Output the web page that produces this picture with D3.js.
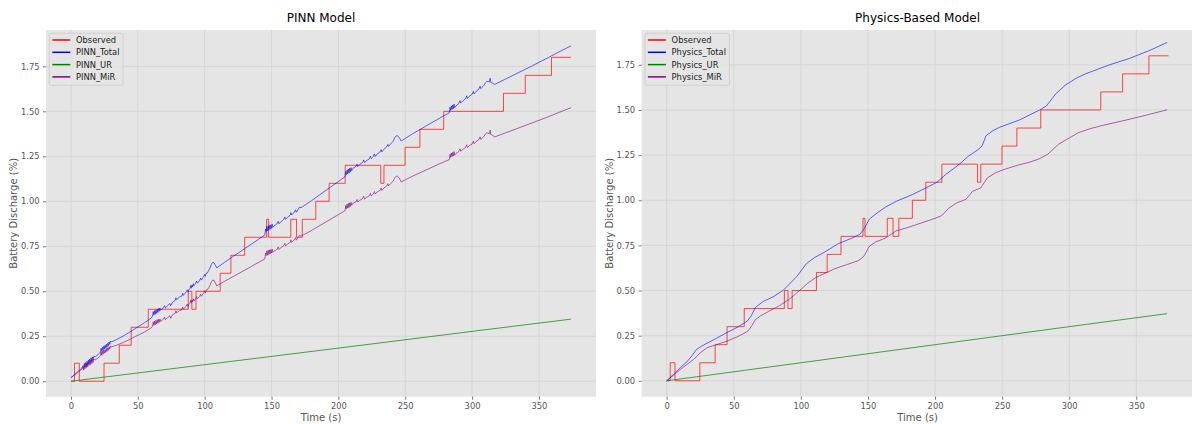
<!DOCTYPE html>
<html>
  <head>
    <meta charset="utf-8">
    <title>PINN vs Physics-Based Model</title>
    <script src="https://cdn.jsdelivr.net/npm/d3@7"></script>
    <style>
      html, body { margin: 0; padding: 0; background: #fff; }
      #chart { width: 1192px; height: 424px; }
      text { font-family: "DejaVu Sans", sans-serif; }
    </style>
  </head>
  <body>
    <div id="chart"></div>
    <script>
// ---- data ----
// observed discharge, step function shared by both panels
var obsTime  = [0, 2.6, 6.2, 24.7, 36.1, 45, 57.8, 87.7, 90.4, 93.5, 111.6, 119.6, 129.9, 146.3, 147.8, 164.4, 168.7, 173, 183.1, 193.1, 205.1, 231.7, 234.1, 249.9, 261, 278.8, 323.5, 339.8, 359.4, 374];
var obsValue = [0, 0.1, 0, 0.1, 0.2, 0.3, 0.4, 0.5, 0.4, 0.5, 0.6, 0.7, 0.8, 0.9, 0.8, 0.9, 0.8, 0.9, 1.0, 1.1, 1.2, 1.1, 1.2, 1.3, 1.4, 1.5, 1.6, 1.7, 1.8, 1.8];

// PINN model [time, value]
var pinnMiR = [
  [0,0.020],[4,0.042],[8,0.066],
  [9,0.078],[9.5,0.062],[10,0.090],[10.5,0.070],[11,0.094],[11.5,0.076],[12,0.100],[12.5,0.080],[13,0.106],[13.5,0.088],
  [14,0.110],[14.5,0.092],[15,0.116],[15.5,0.098],[16,0.120],[16.5,0.104],[17,0.122],[18,0.118],[20,0.128],[22,0.142],
  [22.5,0.162],[23,0.144],[23.5,0.166],[24,0.150],[24.5,0.172],[25,0.156],[25.5,0.176],[26,0.160],[26.5,0.182],[27,0.166],
  [27.5,0.186],[28,0.172],[28.5,0.192],[29,0.178],[29.5,0.196],[30,0.190],
  [34,0.200],[40,0.218],[48,0.248],[55,0.274],[60,0.296],
  [61,0.306],[61.5,0.330],[62,0.310],[62.5,0.334],[63,0.314],[63.5,0.338],[64,0.318],[64.5,0.342],[65,0.322],[65.5,0.344],
  [66,0.328],[66.5,0.346],[67,0.332],[69,0.344],[70,0.356],[70.5,0.342],[72,0.352],[74,0.364],[74.5,0.350],[76,0.370],
  [78,0.378],[78.5,0.392],[79,0.380],[81,0.392],[83,0.398],[83.5,0.412],[84,0.400],[86,0.416],[87,0.428],[87.5,0.414],
  [88,0.426],[89,0.434],[89.5,0.450],[90,0.434],[90.5,0.452],[91,0.440],[91.5,0.458],[92,0.446],[93,0.456],[94,0.470],
  [94.5,0.458],[96,0.470],[97,0.484],[97.5,0.472],[99,0.488],[100,0.502],[100.5,0.490],[101,0.506],[102,0.508],[103,0.520],
  [104,0.534],[105,0.552],[106,0.562],[107,0.560],[108,0.546],[109,0.530],
  [115,0.556],[125,0.597],[135,0.638],
  [145,0.680],[145.5,0.712],[146,0.698],[146.5,0.724],[147,0.700],[147.5,0.728],[148,0.704],[148.5,0.730],[149,0.708],
  [149.5,0.732],[150,0.712],[150.5,0.734],[151,0.716],[152,0.724],[154,0.732],[155,0.746],[155.5,0.732],[157,0.742],
  [159,0.752],[160,0.766],[160.5,0.752],[162,0.762],[164,0.772],[164.5,0.786],[165,0.772],[167,0.786],[168,0.798],
  [168.5,0.784],[170,0.800],[171,0.812],[172,0.806],[173,0.810],
  [180,0.838],[190,0.882],[200,0.926],
  [205,0.948],[205.5,0.976],[206,0.958],[206.5,0.984],[207,0.962],[207.5,0.988],[208,0.966],[208.5,0.992],[209,0.972],
  [209.5,0.994],[210,0.978],[211,0.990],[213,0.996],[214,1.010],[214.5,0.996],[216,1.006],[218,1.014],[219,1.028],
  [219.5,1.012],[221,1.022],[223,1.030],[224,1.044],[224.5,1.030],[226,1.040],[227,1.054],[227.5,1.040],[229,1.052],
  [231,1.060],[232,1.074],[232.5,1.060],[234,1.074],[236,1.084],[237,1.098],[237.5,1.086],[239,1.098],[241,1.112],
  [242,1.128],[243,1.138],[244,1.140],[245,1.134],[246,1.122],[247,1.108],
  [255,1.138],[265,1.172],[275,1.206],
  [283,1.232],[283.5,1.262],[284,1.244],[284.5,1.268],[285,1.248],[285.5,1.272],[286,1.252],[286.5,1.276],[287,1.256],
  [288,1.266],[290,1.276],[291,1.292],[291.5,1.278],[293,1.288],[295,1.298],[296,1.314],[296.5,1.298],[298,1.310],
  [300,1.318],[301,1.334],[301.5,1.320],[303,1.332],[305,1.342],[306,1.358],[306.5,1.344],[308,1.354],[309,1.362],
  [310,1.374],[311,1.380],[312,1.378],[313,1.376],[313.5,1.396],[314,1.372],[315,1.368],[316,1.362],[317,1.358],
  [325,1.380],[335,1.408],[345,1.436],[355,1.464],[365,1.494],[374,1.520]
];
var pinnTotal = [
  [0,0.020],[4,0.046],[8,0.073],
  [9,0.086],[9.5,0.071],[10,0.099],[10.5,0.080],[11,0.104],[11.5,0.087],[12,0.111],[12.5,0.092],[13,0.118],[13.5,0.100],
  [14,0.123],[14.5,0.105],[15,0.130],[15.5,0.112],[16,0.135],[16.5,0.119],[17,0.138],[18,0.135],[20,0.146],[22,0.162],
  [22.5,0.183],[23,0.165],[23.5,0.188],[24,0.172],[24.5,0.195],[25,0.179],[25.5,0.200],[26,0.184],[26.5,0.206],[27,0.191],
  [27.5,0.211],[28,0.198],[28.5,0.218],[29,0.205],[29.5,0.223],[30,0.218],
  [34,0.231],[40,0.255],[48,0.292],[55,0.325],[60,0.351],
  [61,0.362],[61.5,0.387],[62,0.367],[62.5,0.392],[63,0.372],[63.5,0.396],[64,0.377],[64.5,0.401],[65,0.382],[65.5,0.404],
  [66,0.389],[66.5,0.407],[67,0.394],[69,0.408],[70,0.420],[70.5,0.407],[72,0.418],[74,0.432],[74.5,0.419],[76,0.440],
  [78,0.450],[78.5,0.464],[79,0.453],[81,0.467],[83,0.474],[83.5,0.489],[84,0.477],[86,0.495],[87,0.508],[87.5,0.495],
  [88,0.507],[89,0.516],[89.5,0.532],[90,0.517],[90.5,0.535],[91,0.524],[91.5,0.542],[92,0.531],[93,0.542],[94,0.557],
  [94.5,0.545],[96,0.558],[97,0.573],[97.5,0.562],[99,0.579],[100,0.594],[100.5,0.583],[101,0.599],[102,0.602],[103,0.615],
  [104,0.630],[105,0.649],[106,0.660],[107,0.658],[108,0.645],[109,0.630],
  [115,0.662],[125,0.712],[135,0.762],
  [145,0.813],[145.5,0.846],[146,0.832],[146.5,0.859],[147,0.835],[147.5,0.864],[148,0.840],[148.5,0.867],[149,0.845],
  [149.5,0.870],[150,0.850],[150.5,0.873],[151,0.855],[152,0.864],[154,0.874],[155,0.889],[155.5,0.875],[157,0.886],
  [159,0.898],[160,0.913],[160.5,0.900],[162,0.911],[164,0.923],[164.5,0.937],[165,0.924],[167,0.940],[168,0.953],
  [168.5,0.939],[170,0.956],[171,0.969],[172,0.964],[173,0.969],
  [180,1.004],[190,1.057],[200,1.110],
  [205,1.137],[205.5,1.165],[206,1.148],[206.5,1.174],[207,1.152],[207.5,1.179],[208,1.157],[208.5,1.184],[209,1.164],
  [209.5,1.187],[210,1.171],[211,1.184],[213,1.192],[214,1.207],[214.5,1.193],[216,1.205],[218,1.215],[219,1.230],
  [219.5,1.214],[221,1.225],[223,1.235],[224,1.250],[224.5,1.237],[226,1.248],[227,1.263],[227.5,1.249],[229,1.263],
  [231,1.273],[232,1.287],[232.5,1.274],[234,1.289],[236,1.301],[237,1.316],[237.5,1.305],[239,1.318],[241,1.334],
  [242,1.351],[243,1.362],[244,1.365],[245,1.359],[246,1.348],[247,1.335],
  [255,1.373],[265,1.416],[275,1.459],
  [283,1.492],[283.5,1.523],[284,1.505],[284.5,1.530],[285,1.510],[285.5,1.535],[286,1.515],[286.5,1.540],[287,1.520],
  [288,1.531],[290,1.543],[291,1.560],[291.5,1.546],[293,1.558],[295,1.569],[296,1.586],[296.5,1.571],[298,1.584],
  [300,1.594],[301,1.611],[301.5,1.597],[303,1.611],[305,1.623],[306,1.640],[306.5,1.626],[308,1.637],[309,1.646],
  [310,1.659],[311,1.666],[312,1.665],[313,1.664],[313.5,1.684],[314,1.661],[315,1.658],[316,1.653],[317,1.650],
  [325,1.679],[335,1.716],[345,1.753],[355,1.791],[365,1.830],[374,1.864]
];
var pinnUR = [[0,0.000],[100,0.092],[200,0.184],[300,0.277],[374,0.345]];

// physics-based model [time, value]
var physTotal = [
  [0,0.000],[5,0.035],[10,0.072],[15,0.105],[19,0.140],[22,0.172],[26,0.192],[30,0.208],[37,0.235],[45,0.268],
  [53,0.298],[60,0.330],[63,0.360],[66,0.405],[72,0.440],[79,0.464],[87,0.502],[92,0.540],[97,0.578],[104,0.648],
  [110,0.682],[117,0.710],[128,0.760],[138,0.790],[144,0.812],[147,0.840],[151,0.895],[156,0.925],[163,0.962],[171,0.994],
  [183,1.031],[195,1.075],[201,1.098],[208,1.143],[218,1.199],[225,1.245],[232,1.280],[235,1.300],[238,1.357],[243,1.385],
  [248,1.404],[263,1.445],[278,1.500],[283,1.522],[290,1.590],[297,1.637],[305,1.675],[312,1.700],[320,1.722],[330,1.750],
  [345,1.786],[360,1.830],[373,1.874]
];
var physMiR = [
  [0,0.000],[5,0.030],[10,0.062],[15,0.090],[20,0.118],[25,0.155],[30,0.183],[37,0.200],[45,0.220],[53,0.245],
  [60,0.272],[63,0.300],[66,0.338],[70,0.360],[77,0.388],[84,0.416],[92,0.455],[99,0.500],[105,0.540],[111,0.572],
  [117,0.592],[125,0.620],[134,0.643],[143,0.666],[147,0.690],[151,0.745],[156,0.770],[163,0.790],[171,0.830],[180,0.850],
  [190,0.875],[200,0.900],[205,0.915],[210,0.955],[216,0.985],[223,1.005],[228,1.050],[234,1.068],[239,1.124],[245,1.152],
  [252,1.172],[262,1.195],[270,1.210],[277,1.227],[284,1.255],[292,1.310],[300,1.345],[307,1.375],[315,1.395],[325,1.415],
  [340,1.440],[355,1.467],[373,1.501]
];
var physUR = [[0,0.000],[100,0.100],[200,0.200],[300,0.300],[373,0.372]];

var xTicks = [0, 50, 100, 150, 200, 250, 300, 350];
var yTicks = [0, 0.25, 0.5, 0.75, 1.0, 1.25, 1.5, 1.75];

var W = 1192, H = 424;

var svg = d3.select("#chart").append("svg")
  .attr("width", W)
  .attr("height", H);

svg.append("rect").attr("width", W).attr("height", H).attr("fill", "#fff");

function drawPanel(p) {
  var g = svg.append("g");
  var x = d3.scaleLinear().domain([-18.7, 392.7]).range([p.left, p.left + p.width]);
  var y = d3.scaleLinear().domain(p.yDomain).range([p.top + p.height, p.top]);

  g.append("rect")
    .attr("x", p.left).attr("y", p.top)
    .attr("width", p.width).attr("height", p.height)
    .attr("fill", "#e5e5e5");

  // grid
  g.selectAll(".vgrid").data(xTicks).enter().append("line")
    .attr("x1", function(d) { return x(d); }).attr("x2", function(d) { return x(d); })
    .attr("y1", p.top).attr("y2", p.top + p.height)
    .attr("stroke", "#d6d6d6").attr("stroke-width", 1);
  g.selectAll(".hgrid").data(yTicks).enter().append("line")
    .attr("y1", function(d) { return y(d); }).attr("y2", function(d) { return y(d); })
    .attr("x1", p.left).attr("x2", p.left + p.width)
    .attr("stroke", "#d6d6d6").attr("stroke-width", 1);

  // axes
  var xa = g.append("g")
    .attr("transform", "translate(0," + (p.top + p.height) + ")")
    .call(d3.axisBottom(x).tickValues(xTicks).tickSize(3).tickPadding(3.5).tickFormat(d3.format("d")));
  var ya = g.append("g")
    .attr("transform", "translate(" + p.left + ",0)")
    .call(d3.axisLeft(y).tickValues(yTicks).tickSize(3).tickPadding(3.5).tickFormat(d3.format(".2f")));
  [xa, ya].forEach(function(a) {
    a.select(".domain").remove();
    a.selectAll("line").attr("stroke", "#555").attr("stroke-width", 0.8);
    a.selectAll("text").attr("fill", "#555").style("font-size", "8.33px").style("font-family", "DejaVu Sans");
  });

  // lines
  var clipId = "clip" + p.name;
  svg.append("clipPath").attr("id", clipId).append("rect")
    .attr("x", p.left).attr("y", p.top).attr("width", p.width).attr("height", p.height);
  var lines = g.append("g").attr("clip-path", "url(#" + clipId + ")");

  var obs = obsTime.map(function(t, i) { return [t, obsValue[i]]; });
  var stepLine = d3.line().x(function(d) { return x(d[0]); }).y(function(d) { return y(d[1]); }).curve(d3.curveStepAfter);
  var plain = d3.line().x(function(d) { return x(d[0]); }).y(function(d) { return y(d[1]); });

  lines.append("path").attr("d", stepLine(obs))
    .attr("fill", "none").attr("stroke", "red").attr("stroke-opacity", 0.7).attr("stroke-width", 1);
  p.series.forEach(function(s) {
    lines.append("path").attr("d", plain(s.data))
      .attr("fill", "none").attr("stroke", s.color).attr("stroke-opacity", s.alpha)
      .attr("stroke-width", 1).attr("stroke-linejoin", "round");
  });

  // legend
  var items = [{ label: "Observed", color: "red" }].concat(p.series);
  var lg = g.append("g").attr("transform", "translate(" + (p.left + 3.3) + "," + (p.top + 3.3) + ")");
  var box = lg.append("rect").attr("rx", 2).attr("ry", 2)
    .attr("fill", "#e5e5e5").attr("fill-opacity", 0.8)
    .attr("stroke", "#cccccc").attr("stroke-width", 0.8);
  var maxW = 0;
  items.forEach(function(it, i) {
    var cy = 6.7 + i * 12.3;
    lg.append("line").attr("x1", 3).attr("x2", 21).attr("y1", cy).attr("y2", cy)
      .attr("stroke", it.color).attr("stroke-width", 1.5);
    var t = lg.append("text").attr("x", 26.7).attr("y", cy).attr("dy", "0.35em")
      .attr("fill", "#222").style("font-size", "8.33px").text(it.label);
    maxW = Math.max(maxW, t.node().getComputedTextLength());
  });
  box.attr("width", 26.7 + maxW + 3.5).attr("height", 52);

  // titles
  g.append("text").attr("x", p.left + p.width / 2).attr("y", 22)
    .attr("text-anchor", "middle").attr("fill", "#000")
    .style("font-size", "12px").text(p.title);
  g.append("text").attr("x", p.left + p.width / 2).attr("y", 420.5)
    .attr("text-anchor", "middle").attr("fill", "#555")
    .style("font-size", "10px").text("Time (s)");
  g.append("text")
    .attr("transform", "translate(" + (p.left - 29) + "," + (p.top + p.height / 2) + ") rotate(-90)")
    .attr("text-anchor", "middle").attr("fill", "#555")
    .style("font-size", "10px").text("Battery Discharge (%)");
}

drawPanel({
  name: "pinn", title: "PINN Model",
  left: 46, top: 30, width: 550, height: 366.7,
  yDomain: [-0.086, 1.952],
  series: [
    { label: "PINN_Total", color: "blue", alpha: 0.6, data: pinnTotal },
    { label: "PINN_UR", color: "green", alpha: 0.7, data: pinnUR },
    { label: "PINN_MiR", color: "purple", alpha: 0.6, data: pinnMiR }
  ]
});

drawPanel({
  name: "phys", title: "Physics-Based Model",
  left: 641.6, top: 30, width: 552, height: 366.7,
  yDomain: [-0.088, 1.943],
  series: [
    { label: "Physics_Total", color: "blue", alpha: 0.6, data: physTotal },
    { label: "Physics_UR", color: "green", alpha: 0.7, data: physUR },
    { label: "Physics_MiR", color: "purple", alpha: 0.6, data: physMiR }
  ]
});
    </script>
  </body>
</html>
